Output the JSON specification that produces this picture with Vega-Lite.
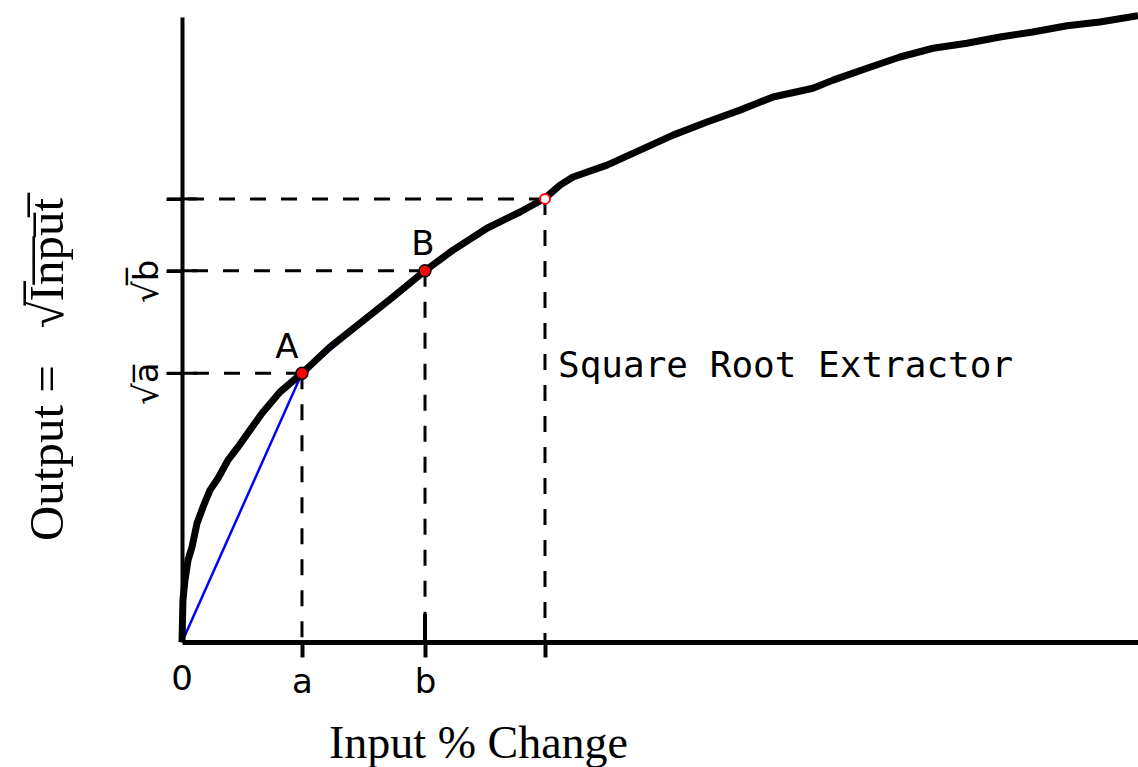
{
  "$schema": "https://vega.github.io/schema/vega-lite/v6.json",
  "width": 956,
  "height": 625,
  "autosize": "none",
  "padding": {"left": 182, "top": 17, "right": 0, "bottom": 125},
  "background": "white",
  "config": {"view": {"stroke": null}},
  "datasets": {
    "curve": [
      {"x": 0, "y": 0}, {"x": 0.1, "y": 6.7}, {"x": 0.31, "y": 9.9}, {"x": 0.63, "y": 13.1},
      {"x": 1.05, "y": 15.2}, {"x": 1.57, "y": 19.0}, {"x": 2.2, "y": 21.6}, {"x": 2.93, "y": 24.3},
      {"x": 3.77, "y": 26.2}, {"x": 4.81, "y": 29.1}, {"x": 5.86, "y": 31.2}, {"x": 7.11, "y": 33.9},
      {"x": 8.37, "y": 36.6}, {"x": 10.25, "y": 40.0}, {"x": 12.55, "y": 43.0}, {"x": 15.48, "y": 47.2},
      {"x": 18.62, "y": 51.0}, {"x": 22.07, "y": 55.2}, {"x": 25.42, "y": 59.4}, {"x": 28.35, "y": 62.7},
      {"x": 31.9, "y": 66.2}, {"x": 35.36, "y": 68.8}, {"x": 37.97, "y": 71.0}, {"x": 39.54, "y": 73.1},
      {"x": 40.9, "y": 74.4}, {"x": 44.46, "y": 76.3}, {"x": 47.91, "y": 78.7}, {"x": 51.36, "y": 81.1},
      {"x": 54.92, "y": 83.2}, {"x": 58.37, "y": 85.1}, {"x": 61.82, "y": 87.2}, {"x": 66.0, "y": 88.6},
      {"x": 68.1, "y": 89.9}, {"x": 71.65, "y": 91.8}, {"x": 75.1, "y": 93.6}, {"x": 78.56, "y": 95.0},
      {"x": 82.1, "y": 95.8}, {"x": 85.56, "y": 96.8}, {"x": 89.0, "y": 97.6}, {"x": 92.57, "y": 98.6},
      {"x": 96.0, "y": 99.2}, {"x": 100, "y": 100.2}
    ],
    "chord": [
      {"x": 0, "y": 0}, {"x": 12.55, "y": 43.0}, {"x": 25.42, "y": 59.4}
    ],
    "points": [
      {"name": "A", "x": 12.55, "y": 43.0},
      {"name": "B", "x": 25.42, "y": 59.4},
      {"name": "C", "x": 37.97, "y": 70.9}
    ],
    "letters": [
      {"text": "A", "x": 10.98, "y": 45.4},
      {"text": "B", "x": 25.2, "y": 61.9},
      {"text": "0", "x": 0, "y": -7.7}
    ],
    "caption": [
      {"text": "Square Root Extractor", "x": 39.33, "y": 42.4}
    ]
  },
  "layer": [
    {
      "data": {"name": "points"},
      "mark": {"type": "rule", "color": "black", "strokeWidth": 3, "strokeDash": [16, 15]},
      "encoding": {
        "x": {"field": "x", "type": "quantitative", "scale": {"domain": [0, 100], "nice": false},
          "axis": {
            "values": [12.55, 25.42, 37.97],
            "labelExpr": "datum.value < 13 ? 'a' : datum.value < 26 ? 'b' : ''",
            "domainColor": "black", "domainWidth": 5,
            "tickColor": "black",
            "tickWidth": 4, "tickSize": 15,
            "labelFont": "DejaVu Sans", "labelFontSize": 34, "labelColor": "black",
            "labelPadding": 8, "labelFlush": false, "labelOverlap": false, "labelBaseline": "top",
            "grid": false,
            "title": "Input % Change",
            "titleFont": "Liberation Serif", "titleFontSize": 46, "titleFontWeight": "normal",
            "titleColor": "black", "titleX": 296, "titleY": 115,
            "titleAlign": "center", "titleBaseline": "alphabetic"
          }
        },
        "x2": {"datum": 0},
        "y": {"field": "y", "type": "quantitative", "scale": {"domain": [0, 100], "nice": false},
          "axis": {
            "values": [43.0, 59.4, 70.9],
            "labelExpr": "datum.value < 50 ? '√a\u0305' : datum.value < 65 ? '√b\u0305' : ''",
            "domainColor": "black", "domainWidth": 4,
            "tickColor": "black", "tickWidth": 3, "tickSize": 16,
            "labelAngle": 270, "labelAlign": "center", "labelBaseline": "alphabetic",
            "labelPadding": 9, "labelOffset": 10,
            "labelFont": "DejaVu Sans", "labelFontSize": 34, "labelColor": "black",
            "labelOverlap": false, "labelFlush": false,
            "grid": false,
            "title": "Output\u00a0=\u00a0\u00a0\u00a0√I\u0305n\u0305p\u0305u\u0305t\u0305",
            "titleFont": "Liberation Serif", "titleFontSize": 49, "titleFontWeight": "normal",
            "titleColor": "black", "titleAngle": 270, "titleX": -120, "titleY": 352,
            "titleAlign": "center", "titleBaseline": "alphabetic"
          }
        }
      }
    },
    {
      "data": {"name": "points"},
      "mark": {"type": "rule", "color": "black", "strokeWidth": 3, "strokeDash": [16, 15]},
      "encoding": {
        "x": {"field": "x", "type": "quantitative"},
        "y": {"field": "y", "type": "quantitative"},
        "y2": {"datum": 0}
      }
    },
    {
      "data": {"name": "points"},
      "mark": {"type": "tick", "color": "black", "orient": "horizontal", "size": 30, "thickness": 3, "opacity": 1},
      "encoding": {
        "x": {"datum": 0, "type": "quantitative"},
        "y": {"field": "y", "type": "quantitative"}
      }
    },
    {
      "data": {"name": "points"},
      "transform": [{"filter": "datum.name == 'B'"}],
      "mark": {"type": "tick", "color": "black", "orient": "vertical", "size": 28, "thickness": 4, "opacity": 1, "yOffset": -14},
      "encoding": {
        "x": {"field": "x", "type": "quantitative"},
        "y": {"datum": 0, "type": "quantitative"}
      }
    },
    {
      "data": {"name": "chord"},
      "mark": {"type": "line", "color": "#0000ff", "strokeWidth": 2.5},
      "encoding": {
        "x": {"field": "x", "type": "quantitative"},
        "y": {"field": "y", "type": "quantitative"}
      }
    },
    {
      "data": {"name": "curve"},
      "mark": {"type": "line", "color": "black", "strokeWidth": 7, "strokeJoin": "round"},
      "encoding": {
        "x": {"field": "x", "type": "quantitative"},
        "y": {"field": "y", "type": "quantitative"}
      }
    },
    {
      "data": {"name": "points"},
      "transform": [{"filter": "datum.name != 'C'"}],
      "mark": {"type": "point", "shape": "circle", "filled": true, "fill": "#ff0000", "stroke": "black", "strokeWidth": 1.5, "size": 140, "opacity": 1},
      "encoding": {
        "x": {"field": "x", "type": "quantitative"},
        "y": {"field": "y", "type": "quantitative"}
      }
    },
    {
      "data": {"name": "points"},
      "transform": [{"filter": "datum.name == 'C'"}],
      "mark": {"type": "point", "shape": "circle", "filled": true, "fill": "white", "stroke": "#ff0000", "strokeWidth": 2, "size": 100, "opacity": 1},
      "encoding": {
        "x": {"field": "x", "type": "quantitative"},
        "y": {"field": "y", "type": "quantitative"}
      }
    },
    {
      "data": {"name": "letters"},
      "mark": {"type": "text", "font": "DejaVu Sans", "fontSize": 34, "color": "black", "align": "center", "baseline": "alphabetic"},
      "encoding": {
        "x": {"field": "x", "type": "quantitative"},
        "y": {"field": "y", "type": "quantitative"},
        "text": {"field": "text"}
      }
    },
    {
      "data": {"name": "caption"},
      "mark": {"type": "text", "font": "DejaVu Sans Mono", "fontSize": 36, "color": "black", "align": "left", "baseline": "alphabetic"},
      "encoding": {
        "x": {"field": "x", "type": "quantitative"},
        "y": {"field": "y", "type": "quantitative"},
        "text": {"field": "text"}
      }
    }
  ]
}
